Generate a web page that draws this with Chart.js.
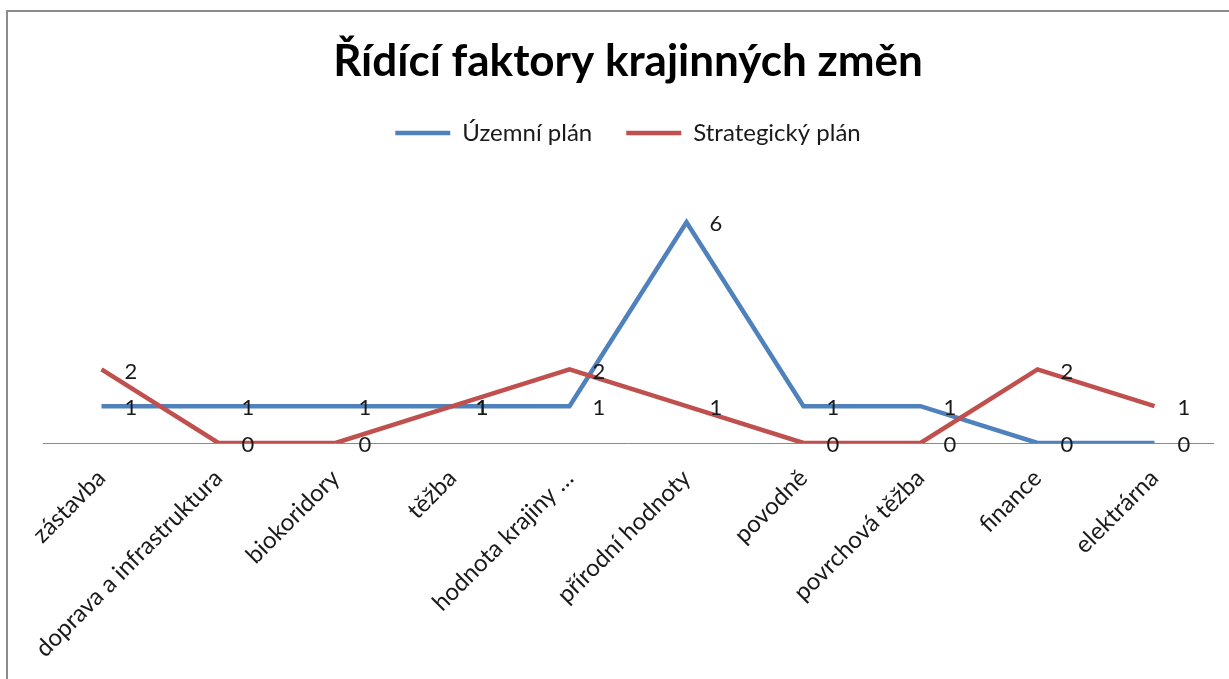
<!DOCTYPE html>
<html>
<head>
<meta charset="utf-8">
<script src="https://cdn.jsdelivr.net/npm/chart.js@4"></script>
<style>
  html, body { margin: 0; padding: 0; background: #fff; overflow: hidden; }
  #wrap { position: relative; width: 1229px; height: 679px; }
  #frame { position: absolute; left: 6px; top: 10px; width: 1240px; height: 700px; border: 2px solid #8c8c8c; pointer-events: none; }
</style>
</head>
<body>
<div id="wrap">
  <canvas id="ch"></canvas>
  <div id="frame"></div>
</div>
<script>
// Řídící faktory krajinných změn – počet zmínek v územním a strategickém plánu
const KATEGORIE = ["zástavba", "doprava a infrastruktura", "biokoridory", "těžba", "hodnota krajiny …",
  "přírodní hodnoty", "povodně", "povrchová těžba", "finance", "elektrárna"];
const UZEMNI = [1, 1, 1, 1, 1, 6, 1, 1, 0, 0];
const STRATEGICKY = [2, 0, 0, 1, 2, 1, 0, 0, 2, 1];

const BLUE = "#4F81BD", RED = "#C0504D";
const FONT = "Lato, 'Open Sans', sans-serif";

// popisky hodnot vpravo od bodu (jako v Excelu)
const valueLabels = {
  id: "valueLabels",
  afterDatasetsDraw(chart) {
    const ctx = chart.ctx;
    ctx.save();
    ctx.font = "22px " + FONT;
    ctx.fillStyle = "#1a1a1a";
    ctx.textAlign = "left";
    ctx.textBaseline = "middle";
    chart.data.datasets.forEach((ds, i) => {
      chart.getDatasetMeta(i).data.forEach((pt, j) => {
        ctx.fillText(String(ds.data[j]), pt.x + 23, pt.y + 2);
      });
    });
    ctx.restore();
  }
};

const canvas = document.getElementById("ch");
canvas.width = 1229; canvas.height = 679;

new Chart(canvas, {
  type: "line",
  data: {
    labels: KATEGORIE,
    datasets: [
      { label: "Územní plán", data: UZEMNI, borderColor: BLUE, backgroundColor: BLUE,
        borderWidth: 4.5, pointRadius: 0, tension: 0, order: 1 },
      { label: "Strategický plán", data: STRATEGICKY, borderColor: RED, backgroundColor: RED,
        borderWidth: 4.5, pointRadius: 0, tension: 0, order: 0 }
    ]
  },
  options: {
    responsive: false, animation: false,
    layout: { padding: { left: 43, right: 16, top: 0, bottom: 0 } },
    plugins: {
      title: { display: true, text: "Řídící faktory krajinných změn", color: "#000",
        font: { family: FONT, size: 44, weight: "bold", lineHeight: 1.1 }, padding: { top: 38, bottom: 0.6 } },
      legend: { position: "top",
        labels: { color: "#1a1a1a", font: { family: FONT, size: 24 }, boxWidth: 55, boxHeight: 0, padding: 34,
          sort: (a, b) => a.datasetIndex - b.datasetIndex } },
      tooltip: { enabled: false }
    },
    scales: {
      x: {
        offset: true,
        grid: { display: false, drawTicks: false },
        border: { display: true, color: "#8a8a8a", width: 1 },
        ticks: { color: "#1a1a1a", font: { family: FONT, size: 24 }, autoSkip: false,
          maxRotation: 45, minRotation: 45, padding: 21 },
        afterFit(s) { s.height = 236; s.paddingLeft = 0; s.paddingRight = 0; }
      },
      y: { display: false, min: 0, max: 7.83 }
    }
  },
  plugins: [valueLabels]
});
</script>
</body>
</html>
